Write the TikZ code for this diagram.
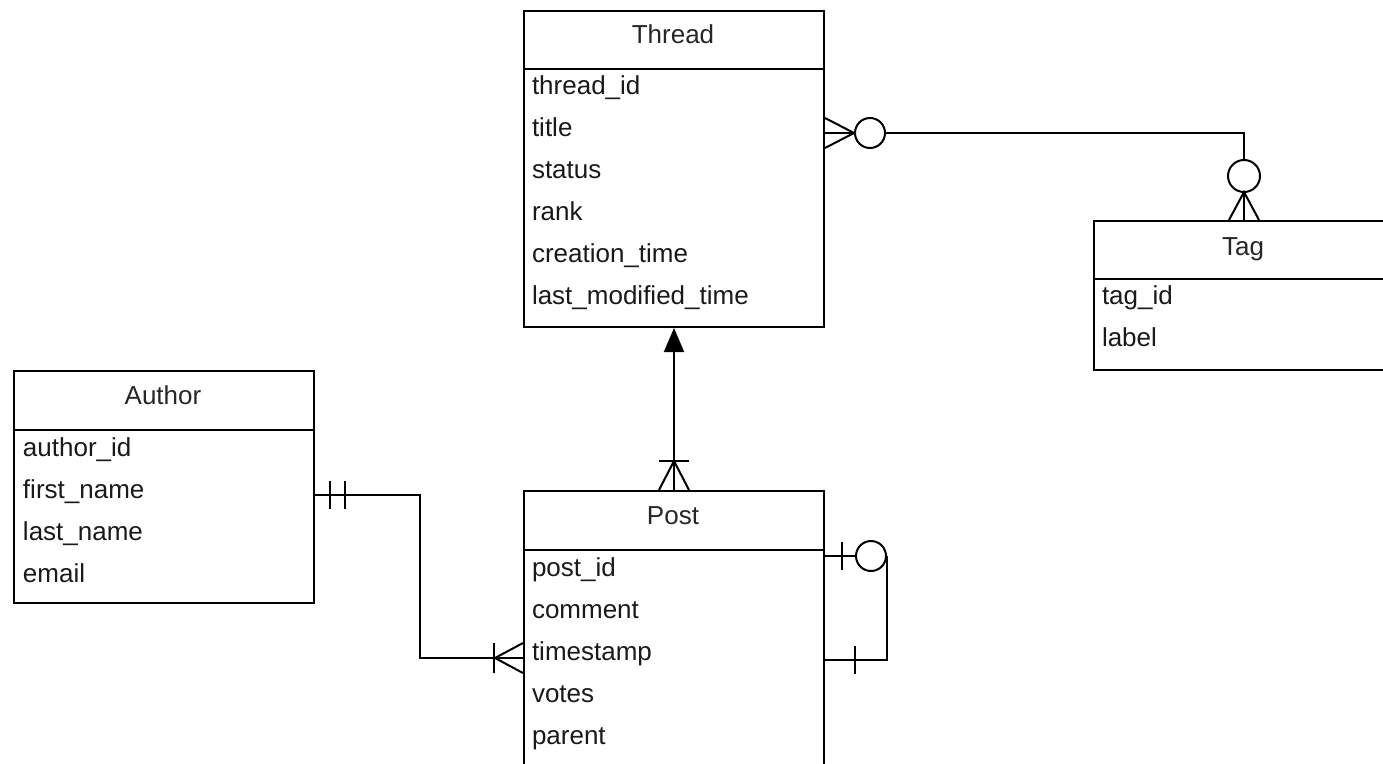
\documentclass[tikz,border=0pt]{standalone}
\usepackage{fontspec}
\setmainfont{Liberation Sans}
\usetikzlibrary{arrows.meta}
\begin{document}
\begin{tikzpicture}[x=1pt,y=-1pt, line width=2pt,
  ent/.style={draw, line width=2pt, anchor=north west, minimum width=300pt, inner sep=0pt},
  fld/.style={anchor=base west, inner sep=0pt, font=\fontsize{26}{30}\selectfont, text=black!90},
  ttl/.style={anchor=base, inner sep=0pt, font=\fontsize{26}{30}\selectfont, text=black!85},
  conn/.style={line width=2pt},
  circ/.style={circle, draw, fill=white, line width=2pt, inner sep=0pt, minimum size=30pt}
  ]
\useasboundingbox (0,0) rectangle (1383,763);
\begin{scope}
\clip (0,0) rectangle (1383,763);
% Thread
\node[ent, minimum height=316pt] (thread) at (523,10) {};
\draw ([yshift=-59pt]thread.north west) -- ([yshift=-59pt]thread.north east);
\node[ttl] (threadT) at (673,43) {Thread};
\node[fld] (t1) at (531,94) {thread\_id};
\node[fld] (t2) at (531,136) {title};
\node[fld] (t3) at (531,178) {status};
\node[fld] (t4) at (531,220) {rank};
\node[fld] (t5) at (531,262) {creation\_time};
\node[fld] (t6) at (531,304) {last\_modified\_time};
% Tag
\node[ent, minimum height=149pt] (tag) at (1093,220) {};
\draw ([yshift=-59pt]tag.north west) -- ([yshift=-59pt]tag.north east);
\node[ttl] (tagT) at (1243,255) {Tag};
\node[fld] (g1) at (1101,304) {tag\_id};
\node[fld] (g2) at (1101,346) {label};
% Author
\node[ent, minimum height=232pt] (author) at (13,370) {};
\draw ([yshift=-60pt]author.north west) -- ([yshift=-60pt]author.north east);
\node[ttl] (authorT) at (163,404) {Author};
\node[fld] (a1f) at (22,456) {author\_id};
\node[fld] (a2f) at (22,498) {first\_name};
\node[fld] (a3f) at (22,540) {last\_name};
\node[fld] (a4f) at (22,582) {email};
% Post
\node[ent, minimum height=320pt] (post) at (523,490) {};
\draw ([yshift=-60pt]post.north west) -- ([yshift=-60pt]post.north east);
\node[ttl] (postT) at (673,524) {Post};
\node[fld] (p1) at (531,576) {post\_id};
\node[fld] (p2) at (531,618) {comment};
\node[fld] (p3) at (531,660) {timestamp};
\node[fld] (p4) at (531,702) {votes};
\node[fld] (p5) at (531,744) {parent};
\end{scope}

% Thread -- Tag (zero-or-many both ends)
\coordinate (a1) at ([yshift=-123pt]thread.north east);
\coordinate (a2) at (tag.north);
\node[circ] (c1) at ([xshift=45pt]a1) {};
\node[circ, minimum size=32pt] (c2) at ([yshift=44pt]a2) {};
\draw[conn] (a1) -- (c1.west);
\draw[conn] (c1.east) -| (c2.north);
\draw[conn] (c2.south) -- (a2);
\draw[conn] ([yshift=15pt]a1) -- ([xshift=29pt]a1) -- ([yshift=-15pt]a1);
\draw[conn] ([xshift=-15pt]a2) -- ([yshift=28pt]a2) -- ([xshift=15pt]a2);

% Post -- Thread
\draw[conn, -{Triangle[length=24pt,width=20pt]}] (post.north) -- (thread.south);
\draw[conn] ([xshift=-15pt,yshift=29pt]post.north) -- ([xshift=15pt,yshift=29pt]post.north);
\draw[conn] ([xshift=-15pt]post.north) -- ([yshift=29pt]post.north) -- ([xshift=15pt]post.north);

% Author -- Post
\coordinate (b1) at ([yshift=-125pt]author.north east);
\coordinate (b2) at ([yshift=-168pt]post.north west);
\draw[conn] (b1) -- ++(105,0) |- (b2);
\draw[conn] ([xshift=15pt,yshift=14pt]b1) -- ([xshift=15pt,yshift=-14pt]b1);
\draw[conn] ([xshift=30pt,yshift=14pt]b1) -- ([xshift=30pt,yshift=-14pt]b1);
\draw[conn] ([yshift=15pt]b2) -- ([xshift=-28pt]b2) -- ([yshift=-15pt]b2);
\draw[conn] ([xshift=-29pt,yshift=15pt]b2) -- ([xshift=-29pt,yshift=-15pt]b2);

% Post self relation
\coordinate (s1) at ([yshift=-66pt]post.north east);
\coordinate (s2) at ([yshift=-170pt]post.north east);
\node[circ] (c3) at ([xshift=46pt]s1) {};
\draw[conn] (s1) -- (c3.west);
\draw[conn] (c3.east) |- (s2);
\draw[conn] ([xshift=17pt,yshift=14pt]s1) -- ([xshift=17pt,yshift=-14pt]s1);
\draw[conn] ([xshift=30pt,yshift=14pt]s2) -- ([xshift=30pt,yshift=-14pt]s2);
\end{tikzpicture}
\end{document}
